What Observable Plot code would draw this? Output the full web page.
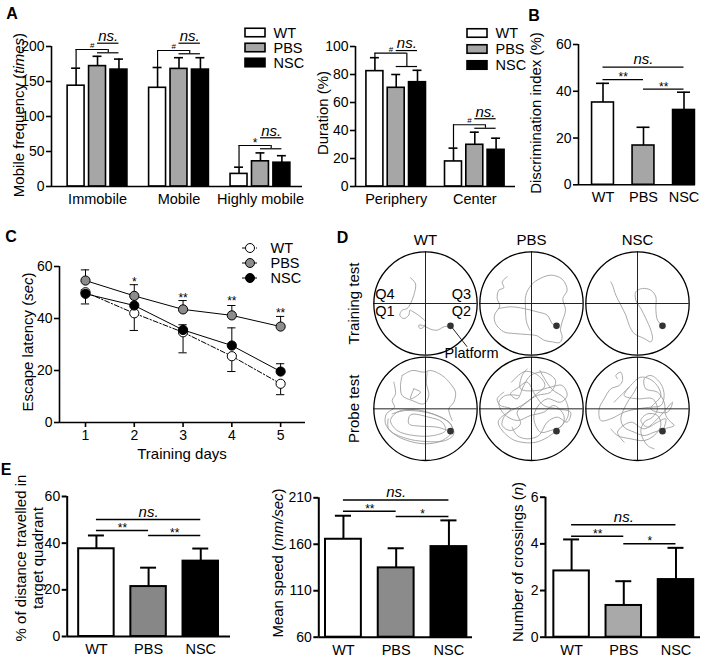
<!DOCTYPE html>
<html><head><meta charset="utf-8">
<script src="https://cdn.jsdelivr.net/npm/d3@7"></script>
<script src="https://cdn.jsdelivr.net/npm/@observablehq/plot@0.6"></script>
<style>
body{margin:0;background:#fff;}
#fig{position:relative;width:708px;height:662px;overflow:hidden;font-family:"Liberation Sans",Arial,Helvetica,sans-serif;color:#000;background:#fff;}
#fig svg{position:absolute;left:0;top:0;overflow:visible;}
.lbl{position:absolute;white-space:nowrap;font-size:15px;line-height:1;color:#000;}
</style></head>
<body><div id="fig"></div>
<script>
// ---------------- DATA ----------------
const seriesNames = ["WT", "PBS", "NSC"];

// Panel A – mobile frequency
const mobGroups = ["Immobile", "Mobile", "Highly mobile"];
const mobWT = [144, 141, 18];   const mobWTerr = [25, 29, 9.6];
const mobPBS = [172, 168, 36];  const mobPBSerr = [14, 16, 12];
const mobNSC = [167, 167, 34];  const mobNSCerr = [15, 17, 10];
const mobTicks = [0, 50, 100, 150, 200];
const mobSymbol = ["#", "#", "*"];
const mobBracketY = [195.7, 194.3, 58.6];
const mobPairY = [191, 189.6, 53.9];
const mobNsY = [204.7, 204.7, 69.6];

// Panel A – duration
const durGroups = ["Periphery", "Center"];
const durWT = [82.4, 17.9];  const durWTerr = [9.6, 9.5];
const durPBS = [70.5, 29.8]; const durPBSerr = [9.5, 9];
const durNSC = [74.5, 26.2]; const durNSCerr = [8.5, 8.3];
const durTicks = [0, 20, 40, 60, 80, 100];
const durSymbol = ["#", "#"];
const durBracketY = [95.2, 44.1];
const durPairY = [85.7, 41.6];
const durNsY = [97.1, 48.4];

// Panel B – discrimination index
const discMean = [35.2, 16.8, 32]; const discErr = [8.2, 7.8, 7.6];
const discTicks = [0, 20, 40, 60];
const discSig = [{a: 0, b: 2, y: 50.3, label: "ns."}, {a: 0, b: 1, y: 45, label: "**"}, {a: 1, b: 2, y: 40.9, label: "**"}];

// Panel C – escape latency
const days = [1, 2, 3, 4, 5];
const latWT = [50.1, 42, 34.7, 25.5, 14.9];  const latWTerr = [4.5, 6.6, 7.9, 5.9, 4.2];
const latPBS = [54.6, 48.7, 43.5, 41.2, 36.9]; const latPBSerr = [4.1, 4.3, 3.4, 3.8, 3.9];
const latNSC = [49.5, 45, 35.6, 29.6, 19.6]; const latNSCerr = [1.5, 4.5, 2, 6.8, 3];
const latTicks = [0, 20, 40, 60];
const latStars = ["", "*", "**", "**", "**"];
const latStarY = [0, 54.6, 48.5, 47.3, 42.7];

// Panel D – swim paths (arena units, radius 155, y downward), platform
const dTrainWT = [[[-45,-77],[-30,-60],[-35,-25],[-45,0],[-55,15],[-70,20],[-77,35],[-65,45],[-50,35],[-47,20],[-40,23],[-15,40],[0,55],[-5,70],[-17,75],[-20,65],[-5,67],[15,77],[35,80],[55,70],[75,67]]];
const dTrainPBS = [
  [[-73,-80],[-88,-65],[-83,-47],[-98,-40],[-103,-15],[-95,7],[-111,35],[-108,60],[-83,85],[-53,90],[-13,93],[17,97],[37,110],[62,115],[85,117],[92,100],[87,80],[92,55],[102,20],[94,-15],[107,-40],[92,-73],[57,-85],[17,-70],[-1,-55],[-17,-25],[-18,15],[-15,55],[-5,80]],
  [[-98,15],[-63,10],[-23,15],[17,25],[47,35],[62,60],[74,67]]
];
const dTrainNSC = [[[-80,-65],[-75,-55],[-65,-25],[-50,5],[-35,35],[-25,65],[-10,90],[20,105],[40,115],[45,105],[40,80],[25,45],[10,15],[-5,-10],[-5,-35],[15,-45],[40,-40],[55,-20],[55,15],[60,50],[75,67]]];
const dProbeWT = [
  [[-95,-80],[-90,-45],[-100,-25],[-93,-5],[-117,15],[-120,45],[-95,75],[-55,95],[0,105],[50,95],[80,68],[75,45],[50,28],[0,8],[-45,2],[-85,10],[-105,35],[-85,65],[-35,80],[25,80],[60,65],[50,40],[10,25],[-45,18],[-50,45],[-15,52],[35,55],[75,68]],
  [[-70,-100],[-40,-115],[-5,-110],[15,-115],[50,-100],[75,-75],[90,-50],[85,-20],[70,0],[80,35]],
  [[5,-110],[3,-75],[10,-40],[-5,-15],[-40,-25],[-70,-40],[-75,-70],[-70,-100]],
  [[-35,-60],[-45,-30],[-15,-50],[-35,-60]],
  [[-100,15],[-60,5],[20,15],[70,40],[85,75],[60,95],[0,98],[-60,88],[-110,62],[-112,30]]
];
const dProbePBS = [
  [[-83,-50],[-103,-30],[-93,-10],[-63,0],[-83,25],[-88,50],[-63,65],[-33,45],[-43,10],[-13,-20],[17,-40],[57,-50],[72,-85],[37,-110],[-3,-100],[-23,-70],[-43,-30],[-63,-45],[-38,-65],[-13,-80],[12,-40],[37,-10],[77,0],[117,10],[107,40],[77,25],[47,40],[22,80],[-13,90],[-43,80],[-58,55]],
  [[-13,-120],[-28,-100],[-33,-60],[17,-55],[57,-65],[92,-70],[107,-40],[87,-20],[47,-30],[17,-5],[7,30],[27,70],[57,65],[92,50],[97,20],[67,-10],[37,10],[-3,20],[-43,35],[-83,15],[-98,-20],[-78,-40],[-38,-40]],
  [[-60,-80],[-20,-112],[20,-100],[40,-70],[10,-40],[-30,-10],[-70,10],[-100,40],[-60,90],[0,102],[40,90],[80,60],[110,20],[100,-30],[60,-60],[25,-115]]
];
const dProbeNSC = [
  [[-60,-90],[-65,-100],[-50,-110],[-45,-85],[-55,-70],[-80,-60],[-100,-30],[-115,0],[-110,35],[-80,30],[-40,10],[0,0],[40,-5],[70,-10],[80,-40],[70,-75],[40,-100],[20,-90],[25,-60],[60,-50],[80,-20],[85,20],[100,40],[110,50],[80,60],[50,70],[20,80],[-10,70],[-40,55],[-50,30],[-30,-20],[-10,-50],[0,-70]],
  [[-80,60],[-60,80],[-20,90],[20,95],[50,80],[70,50],[60,20],[30,15],[10,35],[30,55],[60,40],[85,30],[75,70]],
  [[-25,-65],[-40,-40],[0,-30],[45,-30],[60,0],[45,25],[20,40],[10,70],[30,110],[50,120]],
  [[-70,-20],[-30,-60],[10,-95],[50,-80],[70,-40],[40,0],[90,10],[105,-20],[60,30],[20,60],[-20,40],[-60,70],[-40,100]]
];
const dTracks = [[dTrainWT, dTrainPBS, dTrainNSC], [dProbeWT, dProbePBS, dProbeNSC]];
const dRowNames = ["Training test", "Probe test"];
const platform = [75, 67];
const quadrants = [{q: "Q4", x: -122, y: -28}, {q: "Q3", x: 108, y: -28}, {q: "Q1", x: -122, y: 24}, {q: "Q2", x: 108, y: 24}];

// Panel E
const distMean = [37.6, 21.4, 32.3]; const distErr = [5.7, 8.1, 5.4];
const distTicks = [0, 20, 40, 60];
const distSig = [{a: 0, b: 2, y: 50.1, label: "ns."}, {a: 0, b: 1, y: 45.4, label: "**"}, {a: 1, b: 2, y: 43.3, label: "**"}];
const speedMean = [165.4, 134.6, 157.5]; const speedErr = [25.3, 21.1, 28.2];
const speedTicks = [60, 110, 160, 210];
const speedSig = [{a: 0, b: 2, y: 207.7, label: "ns."}, {a: 0, b: 1, y: 195.5, label: "**"}, {a: 1, b: 2, y: 189.8, label: "*"}];
const crossMean = [2.84, 1.36, 2.47]; const crossErr = [1.35, 1.04, 1.36];
const crossTicks = [0, 2, 4, 6];
const crossSig = [{a: 0, b: 2, y: 4.82, label: "ns."}, {a: 0, b: 1, y: 4.33, label: "**"}, {a: 1, b: 2, y: 4.0, label: "*"}];

// ---------------- RENDER ----------------
const W = 708, H = 662;
const FONT = '"Liberation Sans", Arial, Helvetica, sans-serif';
const fig = document.getElementById("fig");
const baseStyle = {fontFamily: FONT, fontSize: "14px", color: "black", background: "transparent", overflow: "visible"};
const fmt = d => String(d);

function place(svg, left = 0, top = 0) { svg.style.left = left + "px"; svg.style.top = top + "px"; fig.appendChild(svg); }
function label(html, x, y, o = {}) {
  const d = document.createElement("div");
  d.className = "lbl";
  d.innerHTML = html;
  d.style.left = x + "px"; d.style.top = y + "px";
  d.style.transform = "translate(-50%,-50%)" + (o.rotate ? " rotate(-90deg)" : "");
  if (o.size) d.style.fontSize = o.size + "px";
  if (o.bold) d.style.fontWeight = "bold";
  if (o.lh) { d.style.lineHeight = o.lh + "px"; d.style.textAlign = "center"; }
  fig.appendChild(d);
}

function barChart(o) {
  const [l, t, r, b] = o.box;
  const y0 = o.yDomain[0];
  return Plot.plot({
    width: W, height: H,
    marginLeft: l, marginRight: W - r, marginTop: t, marginBottom: H - b,
    x: {domain: o.xDomain, axis: null},
    y: {domain: o.yDomain, axis: null},
    color: {type: "identity"},
    style: baseStyle,
    marks: [
      Plot.ruleX(o.bars, {x: "x", y1: "v", y2: d => d.v + d.e, stroke: "black", strokeWidth: o.sw}),
      Plot.ruleY(o.bars, {y: d => d.v + d.e, x1: d => d.x - o.cap, x2: d => d.x + o.cap, stroke: "black", strokeWidth: o.sw}),
      Plot.rect(o.bars, {x1: d => d.x - o.half, x2: d => d.x + o.half, y1: y0, y2: "v", fill: "fill", stroke: "black", strokeWidth: o.sw}),
      Plot.ruleX([o.xDomain[0]], {y1: y0, y2: o.yDomain[1], stroke: "black", strokeWidth: o.sw}),
      Plot.ruleY([y0], {x1: o.xDomain[0], x2: o.xDomain[1], stroke: "black", strokeWidth: o.sw}),
      Plot.axisY({ticks: o.ticks, tickFormat: fmt, tickSize: 5, tickPadding: 2, fontSize: 14, stroke: "black", strokeWidth: o.sw, fill: "black", label: null}),
      Plot.text(o.cats, {x: "x", y: y0, text: "text", dy: 13, fontSize: 14.5, fill: "black"}),
      ...(o.extra || [])
    ]
  });
}

function groupedBars(groups, vals, errs, fills, off) {
  const out = [];
  groups.forEach((g, gi) => seriesNames.forEach((s, si) => out.push({x: gi + (si - 1) * off, v: vals[si][gi], e: errs[si][gi], fill: fills[si]})));
  return out;
}
function simpleBars(vals, errs, fills) { return seriesNames.map((s, i) => ({x: i, v: vals[i], e: errs[i], fill: fills[i]})); }

function groupSig(groups, off, symbols, bracketY, pairY, nsY, wtTop) {
  const rows = groups.map((g, gi) => ({wt: gi - off, p: gi, n: gi + off, mid: gi + off / 2, sym: symbols[gi], by: bracketY[gi], py: pairY[gi], ny: nsY[gi], top: wtTop[gi], lab: "ns."}));
  const sw = 1.2, st = "black";
  return [
    Plot.ruleX(rows, {x: "wt", y1: "top", y2: "by", stroke: st, strokeWidth: sw}),
    Plot.ruleY(rows, {y: "by", x1: "wt", x2: "mid", stroke: st, strokeWidth: sw}),
    Plot.ruleX(rows, {x: "mid", y1: "py", y2: "by", stroke: st, strokeWidth: sw}),
    Plot.ruleY(rows, {y: "py", x1: "p", x2: "n", stroke: st, strokeWidth: sw}),
    Plot.ruleY(rows, {y: "ny", x1: "p", x2: "n", stroke: st, strokeWidth: sw}),
    Plot.text(rows, {x: "mid", y: "ny", text: "lab", dy: -7, fontSize: 15, fontStyle: "italic", fill: "black"}),
    Plot.text(rows.filter(d => d.sym === "#"), {x: d => (d.wt + d.mid) / 2, y: "by", text: "sym", dy: -4, fontSize: 8, fill: "black"}),
    Plot.text(rows.filter(d => d.sym !== "#"), {x: d => (d.wt + d.mid) / 2, y: "by", text: "sym", dy: -2, fontSize: 12, fill: "black"})
  ];
}
function simpleSig(sig, sw) {
  return [
    Plot.ruleY(sig, {y: "y", x1: "a", x2: "b", stroke: "black", strokeWidth: sw}),
    Plot.text(sig.filter(d => d.label === "ns."), {x: d => (d.a + d.b) / 2, y: "y", text: "label", dy: -7.5, fontSize: 15, fontStyle: "italic", fill: "black"}),
    Plot.text(sig.filter(d => d.label !== "ns."), {x: d => (d.a + d.b) / 2, y: "y", text: "label", dy: -2.5, fontSize: 12, fill: "black"})
  ];
}

// ---- Panel A left
{
  const off = 0.263, fills = ["white", "#a6a6a6", "black"];
  const tops = mobWT.map((v, i) => v + mobWTerr[i]);
  place(barChart({
    box: [51, 46, 302, 186], xDomain: [-0.565, 2.516], yDomain: [0, 200], ticks: mobTicks,
    bars: groupedBars(mobGroups, [mobWT, mobPBS, mobNSC], [mobWTerr, mobPBSerr, mobNSCerr], fills, off),
    half: 0.104, cap: 0.055, sw: 1.6,
    cats: mobGroups.map((t, i) => ({x: i, text: t})),
    extra: groupSig(mobGroups, off, mobSymbol, mobBracketY, mobPairY, mobNsY, tops)
  }));
}
// ---- Panel A right
{
  const off = 0.271, fills = ["white", "#a6a6a6", "black"];
  const tops = durWT.map((v, i) => v + durWTerr[i]);
  place(barChart({
    box: [355, 46, 515, 186], xDomain: [-0.518, 1.518], yDomain: [0, 100], ticks: durTicks,
    bars: groupedBars(durGroups, [durWT, durPBS, durNSC], [durWTerr, durPBSerr, durNSCerr], fills, off),
    half: 0.108, cap: 0.057, sw: 1.6,
    cats: durGroups.map((t, i) => ({x: i, text: t})),
    extra: groupSig(durGroups, off, durSymbol, durBracketY, durPairY, durNsY, tops)
  }));
}
// ---- Panel B
place(barChart({
  box: [578, 44, 695, 184.3], xDomain: [-0.605, 2.284], yDomain: [0, 60], ticks: discTicks,
  bars: simpleBars(discMean, discErr, ["white", "#a6a6a6", "black"]),
  half: 0.27, cap: 0.16, sw: 1.6,
  cats: seriesNames.map((t, i) => ({x: i, text: t})),
  extra: simpleSig(discSig, 1.3)
}));
// ---- Panel E
place(barChart({
  box: [66.7, 496, 230, 636], xDomain: [-0.56, 2.57], yDomain: [0, 60], ticks: distTicks,
  bars: simpleBars(distMean, distErr, ["white", "#878787", "black"]),
  half: 0.34, cap: 0.153, sw: 2,
  cats: seriesNames.map((t, i) => ({x: i, text: t})),
  extra: simpleSig(distSig, 1.5)
}));
place(barChart({
  box: [318.3, 497.3, 472, 636.7], xDomain: [-0.467, 2.447], yDomain: [60, 210], ticks: speedTicks,
  bars: simpleBars(speedMean, speedErr, ["white", "#8b8b8b", "black"]),
  half: 0.34, cap: 0.153, sw: 2,
  cats: seriesNames.map((t, i) => ({x: i, text: t})),
  extra: simpleSig(speedSig, 1.5)
}));
place(barChart({
  box: [545, 496.7, 700, 636.7], xDomain: [-0.5, 2.47], yDomain: [0, 6], ticks: crossTicks,
  bars: simpleBars(crossMean, crossErr, ["white", "#a9a9a9", "black"]),
  half: 0.34, cap: 0.153, sw: 2,
  cats: seriesNames.map((t, i) => ({x: i, text: t})),
  extra: simpleSig(crossSig, 1.5)
}));

// ---- Legends (panel A)
function boxLegend(left, top, rowH, fills) {
  place(Plot.plot({
    width: 75, height: rowH * 3, margin: 0,
    x: {type: "band", domain: ["k"], range: [0, 20], padding: 0, axis: null},
    y: {type: "band", domain: seriesNames, range: [0, rowH * 3], padding: 0, axis: null},
    color: {type: "identity"},
    style: baseStyle,
    marks: [
      Plot.cell(seriesNames, {x: () => "k", y: d => d, fill: (d, i) => fills[i], stroke: "black", strokeWidth: 1.6,
        insetTop: (rowH - 9) / 2, insetBottom: (rowH - 9) / 2, insetLeft: 0, insetRight: 0}),
      Plot.text(seriesNames, {x: () => "k", y: d => d, text: d => d, dx: 18, textAnchor: "start", fontSize: 14.5, fill: "black"})
    ]
  }), left, top);
}
boxLegend(245, 24, 15.5, ["white", "#a6a6a6", "black"]);
boxLegend(467, 23.5, 16.5, ["white", "#a6a6a6", "black"]);

// ---- Panel C
{
  const fills = ["white", "#8c8c8c", "black"];
  const rows = days.map((d, i) => ({day: d, wt: latWT[i], wte: latWTerr[i], pbs: latPBS[i], pbse: latPBSerr[i], nsc: latNSC[i], nsce: latNSCerr[i], star: latStars[i], sy: latStarY[i]}));
  const cw = 0.085;
  const errMarks = (key, ekey, sign) => [
    Plot.ruleX(rows, {x: "day", y1: key, y2: d => d[key] + sign * d[ekey], stroke: "black", strokeWidth: 1}),
    Plot.ruleY(rows, {y: d => d[key] + sign * d[ekey], x1: d => d.day - cw, x2: d => d.day + cw, stroke: "black", strokeWidth: 1})
  ];
  place(Plot.plot({
    width: W, height: H, marginLeft: 59, marginRight: W - 305, marginTop: 266, marginBottom: H - 422,
    x: {domain: [0.467, 5.51], axis: null},
    y: {domain: [0, 60], axis: null},
    color: {type: "identity"},
    style: baseStyle,
    marks: [
      ...errMarks("wt", "wte", -1), ...errMarks("pbs", "pbse", 1), ...errMarks("nsc", "nsce", 1),
      Plot.line(rows, {x: "day", y: "wt", stroke: "black", strokeWidth: 1, strokeDasharray: "5,2,1.5,2"}),
      Plot.line(rows, {x: "day", y: "pbs", stroke: "black", strokeWidth: 1}),
      Plot.line(rows, {x: "day", y: "nsc", stroke: "black", strokeWidth: 1}),
      Plot.dot(rows, {x: "day", y: "wt", r: 4.6, fill: fills[0], stroke: "black", strokeWidth: 1}),
      Plot.dot(rows, {x: "day", y: "pbs", r: 4.6, fill: fills[1], stroke: "black", strokeWidth: 1}),
      Plot.dot(rows, {x: "day", y: "nsc", r: 4.6, fill: fills[2], stroke: "black", strokeWidth: 1}),
      Plot.text(rows.filter(d => d.star), {x: "day", y: "sy", text: "star", fontSize: 12, dy: 2, fill: "black"}),
      Plot.ruleX([0.467], {y1: 0, y2: 60, stroke: "black", strokeWidth: 1.6}),
      Plot.ruleY([0], {x1: 0.467, x2: 5.51, stroke: "black", strokeWidth: 1.6}),
      Plot.axisY({ticks: latTicks, tickFormat: fmt, tickSize: 5, tickPadding: 2, fontSize: 14, stroke: "black", strokeWidth: 1.6, fill: "black", label: null}),
      Plot.axisX({ticks: days, tickFormat: fmt, tickSize: 5, tickPadding: 3, fontSize: 14, stroke: "black", strokeWidth: 1.6, fill: "black", label: null})
    ]
  }));
  // legend C
  place(Plot.plot({
    width: 90, height: 45, margin: 0,
    x: {domain: [0, 1], range: [5, 20], axis: null},
    y: {type: "band", domain: seriesNames, range: [0, 45], padding: 0, axis: null},
    color: {type: "identity"},
    style: baseStyle,
    marks: [
      Plot.ruleY(seriesNames.slice(0, 1), {y: d => d, x1: 0, x2: 1, stroke: "black", strokeWidth: 1, strokeDasharray: "3,1.5,1,1.5"}),
      Plot.ruleY(seriesNames.slice(1), {y: d => d, x1: 0, x2: 1, stroke: "black", strokeWidth: 1}),
      Plot.dot(seriesNames, {x: () => 0.5, y: d => d, r: 4.5, fill: (d, i) => fills[i], stroke: "black", strokeWidth: 1}),
      Plot.text(seriesNames, {x: () => 1, y: d => d, text: d => d, dx: 13, textAnchor: "start", fontSize: 14.5, fill: "black"})
    ]
  }), 236.7, 240);
}

// ---- Panel D
{
  const R = 155, colStep = 318, rowStep = 316;
  const arenas = [], tracks = [], plats = [];
  dTracks.forEach((row, ri) => row.forEach((segs, ci) => {
    const cx = ci * colStep, cy = ri * rowStep;
    arenas.push({cx, cy});
    plats.push({x: cx + platform[0], y: cy + platform[1]});
    segs.forEach((seg, si) => seg.forEach(([dx, dy]) => tracks.push({x: cx + dx, y: cy + dy, z: `${ri}-${ci}-${si}`})));
  }));
  const cols = seriesNames.map((s, i) => ({s, x: i * colStep}));
  const rowsL = dRowNames.map((s, i) => ({s, y: i * rowStep}));
  const xd = [-160, 2 * colStep + 160], yd = [-160, rowStep + 160];
  const k = 1 / 3;
  const mL = 425 - 160 * k, mT = 303 - 160 * k;
  place(Plot.plot({
    width: W, height: H,
    marginLeft: mL, marginRight: W - mL - (xd[1] - xd[0]) * k,
    marginTop: mT, marginBottom: H - mT - (yd[1] - yd[0]) * k,
    x: {domain: xd, axis: null},
    y: {domain: yd, reverse: true, axis: null},
    style: baseStyle,
    marks: [
      Plot.line(tracks, {x: "x", y: "y", z: "z", stroke: "#9a9a9a", strokeWidth: 0.85, curve: "catmull-rom"}),
      Plot.ruleX(arenas, {x: "cx", y1: d => d.cy - R, y2: d => d.cy + R, stroke: "#222", strokeWidth: 1}),
      Plot.ruleY(arenas, {y: "cy", x1: d => d.cx - R, x2: d => d.cx + R, stroke: "#222", strokeWidth: 1}),
      Plot.dot(arenas, {x: "cx", y: "cy", r: R * k, stroke: "black", strokeWidth: 1.3, fill: "none"}),
      Plot.dot(plats, {x: "x", y: "y", r: 3.3, fill: "#333"}),
      Plot.link([{x1: platform[0] + 3, y1: platform[1] + 3, x2: 125, y2: 130}], {x1: "x1", y1: "y1", x2: "x2", y2: "y2", stroke: "#222", strokeWidth: 1}),
      Plot.text(["Platform"], {x: () => 138, y: () => 150, text: d => d, fontSize: 14.5, fill: "black"}),
      Plot.text(quadrants, {x: "x", y: "y", text: "q", fontSize: 14.5, fill: "black"}),
      Plot.text(cols, {x: "x", y: () => -189, text: "s", fontSize: 15, fill: "black"}),
      Plot.text(rowsL, {x: () => -213, y: "y", text: "s", rotate: -90, fontSize: 15, fill: "black"})
    ]
  }));
}

// ---- HTML labels (axis titles, panel letters)
label("A", 12, 13.5, {bold: true, size: 16});
label("B", 534, 16, {bold: true, size: 16});
label("C", 11, 237, {bold: true, size: 16});
label("D", 342.5, 237.5, {bold: true, size: 16});
label("E", 6, 469.5, {bold: true, size: 16});
label("Mobile frequency (<i>times</i>)", 18, 115, {rotate: true});
label("Duration (%)", 322, 113, {rotate: true});
label("Discrimination index (%)", 535, 113, {rotate: true});
label("Escape latency (<i>sec</i>)", 27, 342, {rotate: true});
label("Training days", 182, 453);
label("% of distance travelled in<br>target quadrant", 28.5, 558, {rotate: true, lh: 17});
label("Mean speed (<i>mm/sec</i>)", 277, 563, {rotate: true});
label("Number of crossings (<i>n</i>)", 517, 562, {rotate: true});
</script>
</body></html>
